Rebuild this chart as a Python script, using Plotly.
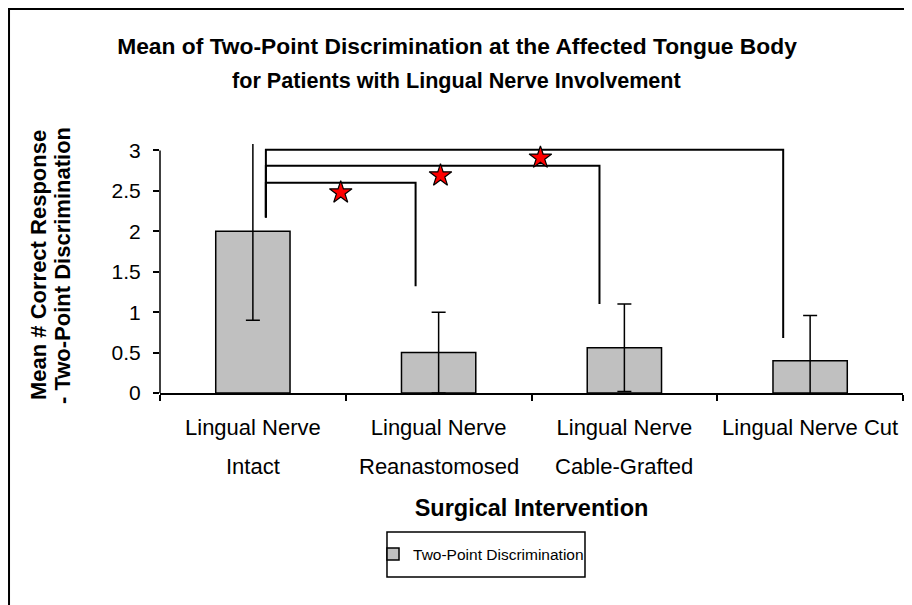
import plotly.graph_objects as go

# ---- data ----
label_line1 = ["Lingual Nerve", "Lingual Nerve", "Lingual Nerve", "Lingual Nerve Cut"]
label_line2 = ["Intact", "Reanastomosed", "Cable-Grafted", ""]
x_pos = [0, 1, 2, 3]
means = [2.0, 0.5, 0.56, 0.4]
errors = [1.1, 0.5, 0.54, 0.56]
y_ticks = [0, 0.5, 1, 1.5, 2, 2.5, 3]
y_ticklabels = ["0", "0.5", "1", "1.5", "2", "2.5", "3"]

# significance brackets (x in category units, y in data units)
bracket_left_x = 0.07
bracket_left_bottom = 2.17
bracket_tops = [3.01, 2.81, 2.60]
bracket_right_x = [2.855, 1.866, 0.876]
bracket_right_bottom = [0.68, 1.10, 1.32]
star_x = [0.473, 1.01, 1.548]
star_y = [2.48, 2.69, 2.91]

title_line1 = "Mean of Two-Point Discrimination at the Affected Tongue Body"
title_line2 = "for Patients with Lingual Nerve Involvement"
ytitle_line1 = "Mean # Correct Response"
ytitle_line2 = "- Two-Point Discrimination"
xtitle = "Surgical Intervention"
series_name = "Two-Point Discrimination"

FONT = "Liberation Sans, Arial, sans-serif"

fig = go.Figure()
fig.add_trace(go.Bar(
    x=x_pos, y=means, width=0.4, name=series_name,
    marker=dict(color="#C0C0C0", line=dict(color="black", width=1.5)),
    error_y=dict(type="data", array=errors, visible=True, color="black",
                 thickness=1.5, width=7),
))

for top, rx, rb in zip(bracket_tops, bracket_right_x, bracket_right_bottom):
    fig.add_trace(go.Scatter(
        x=[bracket_left_x, bracket_left_x, rx, rx],
        y=[bracket_left_bottom, top, top, rb],
        mode="lines", line=dict(color="black", width=2),
        showlegend=False, hoverinfo="skip"))

fig.add_trace(go.Scatter(
    x=star_x, y=star_y, mode="markers",
    marker=dict(symbol="star", size=17, color="red",
                line=dict(color="black", width=1.2)),
    showlegend=False, hoverinfo="skip", cliponaxis=False))

fig.update_layout(
    width=904, height=597,
    margin=dict(l=152, r=9, t=136, b=212),
    paper_bgcolor="white", plot_bgcolor="white",
    font=dict(family=FONT, color="black", size=20),
    title=dict(text="<b>" + title_line1 + "</b>",
               x=0.4967, xanchor="center", xref="container",
               y=1 - 38 / 597, yanchor="middle", yref="container",
               font=dict(size=22.8, family=FONT)),
    showlegend=True,
    legend=dict(orientation="h", x=0.2867, xanchor="left", y=-0.6486, yanchor="middle",
                borderwidth=0, bgcolor="rgba(0,0,0,0)",
                font=dict(size=15.5, family=FONT)),
)
fig.update_xaxes(
    range=[-0.5, 3.5], tickvals=x_pos, ticktext=label_line1, ticks="",
    ticklabelstandoff=14,
    showline=True, linecolor="black", linewidth=1.5, showgrid=False, zeroline=False,
    tickfont=dict(size=22),
    minor=dict(tickvals=[-0.5, 0.5, 1.5, 2.5, 3.5], ticks="outside", ticklen=6,
               tickcolor="black", tickwidth=1.5, showgrid=False),
    title=dict(text="<b>" + xtitle + "</b>", font=dict(size=23.5), standoff=60),
)
fig.update_yaxes(
    range=[0, 3.08], tickvals=y_ticks, ticktext=y_ticklabels,
    ticks="outside", ticklen=6, tickcolor="black", tickwidth=1.5,
    ticklabelstandoff=8,
    showline=False, showgrid=False, zeroline=False,
    tickfont=dict(size=21),
)
# y axis line from 0 to 3 (as in the original)
fig.add_shape(type="line", xref="paper", yref="y", x0=0, x1=0, y0=0, y1=3,
              line=dict(color="black", width=1.5))

# second lines of the category labels
for xp, t in zip(x_pos, label_line2):
    if t:
        fig.add_annotation(x=xp, xref="x", y=-0.2932, yref="paper", text=t,
                           showarrow=False, font=dict(size=22), yanchor="middle")

# second title line
fig.add_annotation(x=0.3997, xref="paper", y=1.257, yref="paper",
                   text="<b>" + title_line2 + "</b>", showarrow=False,
                   font=dict(size=21.6), yanchor="middle", xanchor="center")

# y axis title (two lines)
for xp, t in zip([-0.1642, -0.1319], [ytitle_line1, ytitle_line2]):
    fig.add_annotation(x=xp, xref="paper", y=0.514, yref="paper", text="<b>" + t + "</b>",
                       textangle=-90, showarrow=False, font=dict(size=22),
                       xanchor="center", yanchor="middle")

# legend box
fig.add_shape(type="rect", xref="paper", yref="paper",
              x0=0.3055, x1=0.572, y0=-0.739, y1=-0.558,
              line=dict(color="black", width=1.5), fillcolor="rgba(0,0,0,0)")

# outer chart border (only left and top visible in crop)
fig.add_shape(type="rect", xref="paper", yref="paper",
              x0=-0.2032, x1=1.5, y0=-2.0, y1=1.5422,
              line=dict(color="black", width=2), fillcolor="rgba(0,0,0,0)", layer="below")

fig.write_html("out.html")
